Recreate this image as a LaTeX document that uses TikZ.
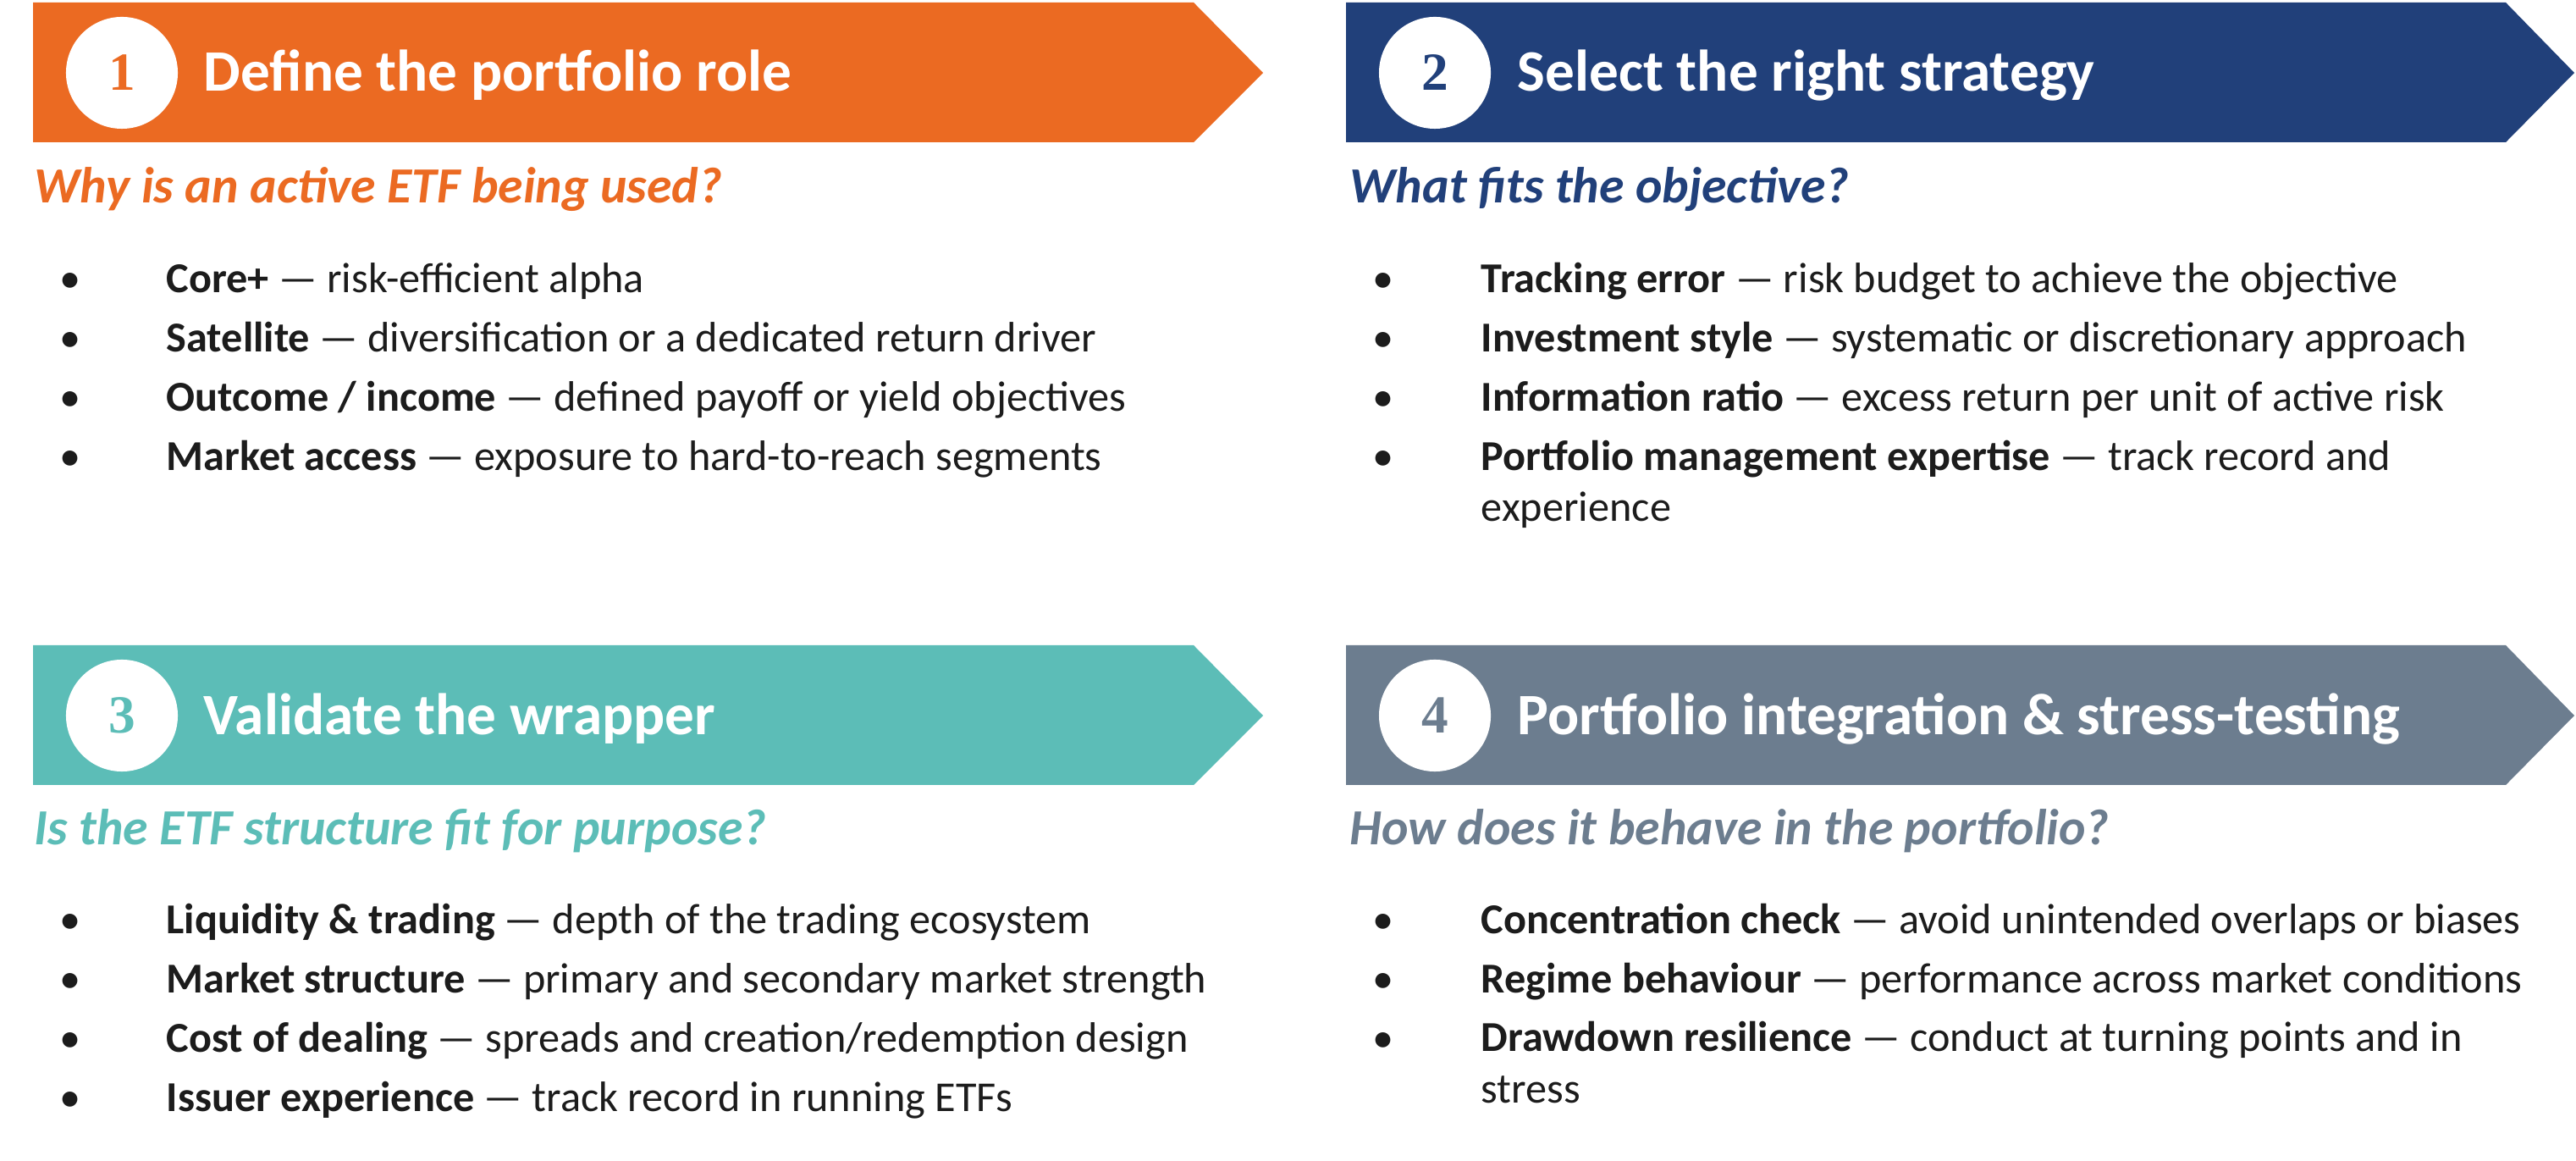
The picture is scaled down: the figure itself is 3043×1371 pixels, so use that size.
\documentclass[tikz,border=0pt]{standalone}
\usepackage{fontspec}
\setmainfont{Carlito}
\newfontfamily\numfont{Liberation Serif}
\usetikzlibrary{positioning}
\definecolor{steporange}{HTML}{EB6A22}
\definecolor{stepnavy}{HTML}{21407A}
\definecolor{stepteal}{HTML}{5CBDB7}
\definecolor{stepslate}{HTML}{6C7D8F}
\definecolor{bodytext}{HTML}{1C1C1C}

\begin{document}
\begin{tikzpicture}[
    x=0.01cm, y=-0.01cm,
    numdisc/.style={circle, fill=white, minimum size=1.32cm, inner sep=0pt, font=\numfont\bfseries\fontsize{18}{20}\selectfont},
    bannertitle/.style={anchor=base west, inner sep=0pt, text=white, font=\bfseries\fontsize{19.7}{22}\selectfont},
    question/.style={anchor=base west, inner sep=0pt, font=\bfseries\itshape\fontsize{17}{20}\selectfont},
    bul/.style={anchor=base, inner sep=0pt, text=bodytext, font=\fontsize{14.3}{17.07}\selectfont},
    item/.style={anchor=base west, inner sep=0pt, align=left, text=bodytext, font=\fontsize{14.3}{17.07}\selectfont}
]
    \useasboundingbox (0,0) rectangle (3043,1371);

    % banners
    \fill[steporange] (39,3) -- (1410,3) -- (1492,86) -- (1410,168) -- (39,168) -- cycle;
    \fill[stepnavy] (1590,3) -- (2960,3) -- (3041,86) -- (2960,168) -- (1590,168) -- cycle;
    \fill[stepteal] (39,762) -- (1410,762) -- (1492,845) -- (1410,927) -- (39,927) -- cycle;
    \fill[stepslate] (1590,762) -- (2960,762) -- (3041,845) -- (2960,927) -- (1590,927) -- cycle;

    % step 1
    \node[numdisc, text=steporange] (n1) at (144,86) {1};
    \node[bannertitle] (t1) at (240,108) {Define the portfolio role};
    \node[question, text=steporange] (q1) at (40,240) {Why is an active ETF being used?};
    \node[bul] (b1a) at (83,346) {•};
    \node[item] (i1a) at (196,346) {\textbf{Core+} — risk-efficient alpha};
    \node[bul] (b1b) at (83,416) {•};
    \node[item] (i1b) at (196,416) {\textbf{Satellite} — diversification or a dedicated return driver};
    \node[bul] (b1c) at (83,486) {•};
    \node[item] (i1c) at (196,486) {\textbf{Outcome / income} — defined payoff or yield objectives};
    \node[bul] (b1d) at (83,556) {•};
    \node[item] (i1d) at (196,556) {\textbf{Market access} — exposure to hard-to-reach segments};

    % step 2
    \node[numdisc, text=stepnavy] (n2) at (1695,86) {2};
    \node[bannertitle] (t2) at (1792,108) {Select the right strategy};
    \node[question, text=stepnavy] (q2) at (1594,240) {What fits the objective?};
    \node[bul] (b2a) at (1634,346) {•};
    \node[item] (i2a) at (1749,346) {\textbf{Tracking error} — risk budget to achieve the objective};
    \node[bul] (b2b) at (1634,416) {•};
    \node[item] (i2b) at (1749,416) {\textbf{Investment style} — systematic or discretionary approach};
    \node[bul] (b2c) at (1634,486) {•};
    \node[item] (i2c) at (1749,486) {\textbf{Information ratio} — excess return per unit of active risk};
    \node[bul] (b2d) at (1634,556) {•};
    \node[item] (i2d) at (1749,616) {\textbf{Portfolio management expertise} — track record and\\experience};

    % step 3
    \node[numdisc, text=stepteal] (n3) at (144,845) {3};
    \node[bannertitle] (t3) at (240,868) {Validate the wrapper};
    \node[question, text=stepteal] (q3) at (40,998) {Is the ETF structure fit for purpose?};
    \node[bul] (b3a) at (83,1102) {•};
    \node[item] (i3a) at (196,1102) {\textbf{Liquidity \& trading} — depth of the trading ecosystem};
    \node[bul] (b3b) at (83,1172) {•};
    \node[item] (i3b) at (196,1172) {\textbf{Market structure} — primary and secondary market strength};
    \node[bul] (b3c) at (83,1242) {•};
    \node[item] (i3c) at (196,1242) {\textbf{Cost of dealing} — spreads and creation/redemption design};
    \node[bul] (b3d) at (83,1312) {•};
    \node[item] (i3d) at (196,1312) {\textbf{Issuer experience} — track record in running ETFs};

    % step 4
    \node[numdisc, text=stepslate] (n4) at (1695,845) {4};
    \node[bannertitle] (t4) at (1792,868) {Portfolio integration \& stress-testing};
    \node[question, text=stepslate] (q4) at (1594,998) {How does it behave in the portfolio?};
    \node[bul] (b4a) at (1634,1102) {•};
    \node[item] (i4a) at (1749,1102) {\textbf{Concentration check} — avoid unintended overlaps or biases};
    \node[bul] (b4b) at (1634,1172) {•};
    \node[item] (i4b) at (1749,1172) {\textbf{Regime behaviour} — performance across market conditions};
    \node[bul] (b4c) at (1634,1242) {•};
    \node[item] (i4c) at (1749,1302) {\textbf{Drawdown resilience} — conduct at turning points and in\\stress};
\end{tikzpicture}
\end{document}
